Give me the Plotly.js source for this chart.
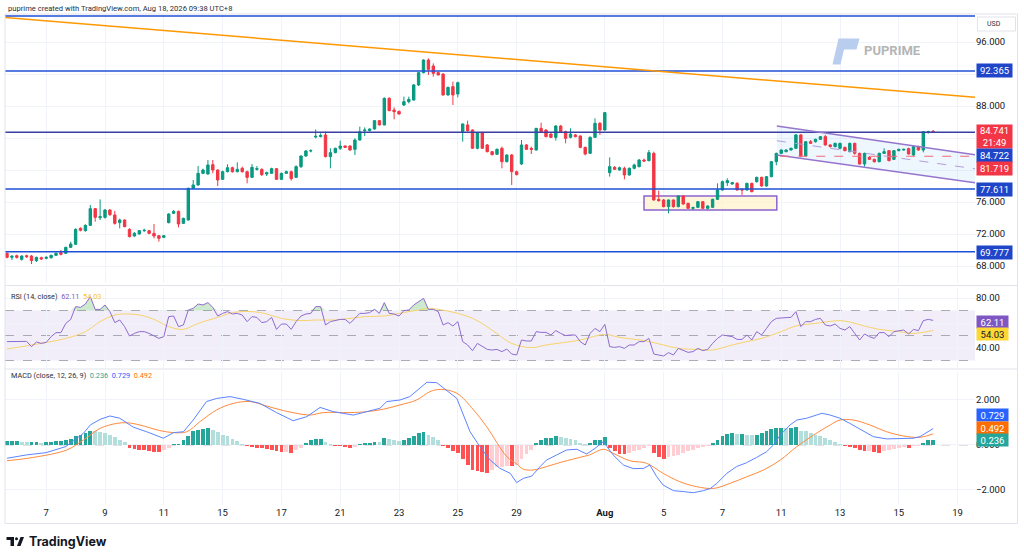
<!DOCTYPE html>
<html><head><meta charset="utf-8">
<script src="https://cdn.plot.ly/plotly-3.0.1.min.js"></script>
<style>html,body{margin:0;padding:0;background:#fff;}#chart{width:1024px;height:558px;}</style>
</head><body><div id="chart"></div>
<script>
// ---------- price candles (4H) ----------
const openP = [69.58,69.08,69.29,68.83,69.29,69.25,68.67,69.04,68.96,69.04,
69.33,69.67,69.58,70.33,70.71,72.71,72.42,73.08,75.17,74.04,
74.08,75.00,74.38,73.42,73.75,72.58,71.75,72.00,72.42,72.42,
72.08,71.79,71.58,73.42,74.58,74.83,73.33,73.75,77.71,78.13,
79.58,79.50,80.67,80.00,78.83,79.79,80.29,79.79,80.21,79.79,
79.08,80.08,80.08,79.50,79.58,80.17,78.83,79.58,79.79,79.08,
80.42,81.75,82.38,84.12,84.17,84.38,81.67,82.17,82.71,83.00,
83.00,82.58,83.75,84.92,84.92,85.13,86.17,85.63,88.96,87.50,
87.33,88.13,88.54,88.75,90.63,92.17,93.75,93.00,92.17,92.00,
89.38,90.42,89.50,84.79,85.63,85.00,82.71,84.67,83.13,82.29,
81.96,82.71,81.04,81.88,79.79,80.75,83.13,82.71,82.50,85.21,
85.00,84.50,84.08,85.50,84.79,84.08,84.38,84.25,82.83,82.08,
84.08,85.83,85.00,79.67,80.33,80.00,80.21,79.38,80.21,80.42,
81.25,81.17,82.08,76.33,76.25,75.42,76.25,75.42,76.75,75.83,
75.21,75.33,76.04,75.21,75.33,76.33,77.50,78.42,78.25,78.33,
77.58,77.50,78.33,78.54,79.08,78.00,79.17,81.04,82.08,82.29,
82.50,82.71,84.38,81.75,83.54,83.54,83.83,84.17,83.13,82.92,
82.71,82.83,82.29,83.33,82.08,80.75,81.58,81.33,81.04,82.08,
82.42,81.33,82.42,82.50,82.67,81.88,82.92,82.50,84.71,84.83];
const highP = [69.71,69.38,69.42,69.33,69.42,69.38,69.17,69.17,69.21,69.42,
69.71,70.00,70.42,71.04,72.71,72.83,73.21,75.63,75.25,76.33,
75.13,75.13,74.88,73.92,73.83,72.71,72.25,72.50,72.67,72.50,
73.25,71.88,71.88,74.58,75.00,74.92,74.04,77.79,78.75,80.50,
80.17,81.25,81.25,80.08,79.92,80.71,80.42,80.96,80.42,79.92,
80.75,80.50,80.21,79.79,80.29,80.25,79.67,79.92,79.92,80.58,
81.83,82.50,82.58,85.08,84.58,84.79,82.71,82.79,83.67,83.08,
83.08,83.96,85.42,85.33,85.17,86.25,86.25,89.08,89.08,87.83,
87.42,89.17,89.17,90.75,92.25,93.83,93.96,93.33,92.25,92.08,
90.42,91.04,91.04,85.83,86.17,85.08,84.71,84.79,83.25,82.38,
82.71,82.92,81.92,82.00,79.92,83.75,83.25,82.92,85.25,85.92,
85.08,84.58,85.63,85.63,84.92,85.21,84.50,84.33,82.92,84.21,
86.46,86.00,87.25,81.58,80.50,80.42,80.42,80.33,80.79,81.38,
81.42,82.50,82.29,77.42,76.38,76.33,76.33,76.83,76.83,75.92,
75.42,76.13,76.13,75.58,76.42,78.33,78.67,78.96,78.50,78.50,
77.67,78.42,78.42,79.17,79.17,79.25,81.13,82.17,82.58,82.58,
82.79,84.50,84.50,83.58,83.75,83.92,84.25,84.38,83.21,83.42,
83.42,82.92,83.42,83.42,82.17,82.17,81.75,81.42,82.17,82.71,
82.50,82.50,82.67,82.67,82.79,83.08,83.04,84.83,84.92,85.00];
const lowP = [68.96,68.75,68.92,68.67,69.00,68.25,68.50,68.75,68.83,68.92,
69.25,69.33,69.50,70.25,70.63,72.33,72.29,73.00,73.54,73.75,
73.92,74.25,73.17,72.71,72.83,71.58,71.67,71.92,72.25,71.96,
71.46,71.04,71.50,73.33,74.50,72.83,73.25,73.67,77.63,78.04,
79.50,79.42,79.58,78.00,78.75,79.71,79.67,79.71,79.67,78.33,
79.00,79.92,79.25,79.25,79.50,78.75,78.75,79.50,78.67,79.00,
80.25,81.67,82.21,83.96,84.08,81.58,80.21,82.08,82.50,82.75,
82.42,81.88,83.67,84.25,84.83,85.04,85.58,85.58,87.33,86.33,
86.92,88.00,88.33,88.67,90.50,92.08,91.88,91.67,91.83,89.29,
89.29,88.13,89.08,83.54,84.79,82.67,82.58,82.63,82.21,81.83,
81.88,80.21,80.96,78.13,79.33,80.63,82.50,82.00,82.42,84.67,
84.08,84.00,83.67,84.71,83.33,83.96,84.08,82.71,81.83,82.00,
84.00,84.38,84.92,79.17,80.00,79.92,78.83,79.29,80.08,80.33,
81.00,81.08,76.17,76.04,75.33,74.58,75.29,75.33,75.67,75.13,
75.00,75.25,75.13,75.08,75.25,76.25,77.42,78.00,78.17,77.42,
76.88,77.42,77.21,78.42,77.92,77.92,79.08,80.58,82.00,82.21,
82.42,82.63,81.58,81.67,83.33,83.42,83.75,83.04,82.83,82.83,
82.58,82.33,82.21,81.92,80.67,80.42,81.25,80.92,80.96,82.00,
81.08,81.25,82.33,82.42,81.92,81.75,82.42,82.21,84.54,84.63];
const closeP = [69.08,69.21,69.08,69.25,69.17,68.67,69.08,68.88,69.08,69.33,
69.58,69.46,70.33,70.75,72.58,72.46,73.08,75.17,74.08,74.17,
75.00,74.42,73.33,73.75,72.92,71.67,72.08,72.42,72.46,72.08,
71.75,71.46,71.79,74.50,74.83,73.25,73.96,77.71,78.13,79.58,
80.00,80.63,80.00,78.75,79.79,80.29,79.79,80.08,79.79,79.08,
80.33,80.17,79.42,79.67,80.17,78.83,79.58,79.79,78.92,80.42,
81.75,82.38,82.42,84.21,84.33,81.67,82.17,82.71,83.00,82.83,
82.50,83.75,84.79,85.00,85.13,86.17,85.63,88.96,87.42,87.29,
87.00,88.54,88.83,90.63,92.17,93.75,92.58,92.08,91.88,89.38,
90.33,89.38,90.92,85.75,84.92,82.71,84.67,82.71,82.29,81.92,
82.58,81.04,81.88,79.79,79.42,83.13,82.58,82.58,85.21,84.79,
84.17,84.08,85.50,84.79,83.96,84.50,84.17,82.83,82.00,84.08,
85.83,85.00,87.17,80.42,80.08,80.29,79.38,80.21,80.63,81.25,
81.13,82.17,76.25,76.17,75.42,76.25,75.42,76.75,75.75,75.21,
75.29,76.04,75.21,75.50,76.33,77.50,78.54,78.67,78.42,77.50,
77.50,78.33,77.29,79.08,78.00,79.17,81.04,82.08,82.50,82.50,
82.71,84.38,81.75,83.54,83.33,83.83,84.17,83.13,82.92,83.33,
83.33,82.42,83.33,82.08,80.75,82.08,81.33,81.04,82.08,82.29,
81.17,82.42,82.58,82.58,82.00,82.92,82.50,84.79,84.79,84.741];

// ---------- RSI (14) and its MA ----------
const rsi = [45.1,45.1,45.3,45.3,45.3,41.1,44.8,43.7,44.5,49.1,
52.3,52.3,59.7,62.9,73.1,72.5,75.2,81.1,70.9,70.9,
74.4,69.1,60.3,62.4,57.1,49.6,51.7,53.1,53.1,51.7,
49.6,47.7,49.1,65.1,65.6,57.1,58.4,70.4,71.7,75.2,
74.4,76.3,72.5,65.6,67.7,69.1,67.2,67.7,66.4,61.1,
65.1,64.5,60.3,61.1,64.5,54.9,59.2,59.2,54.9,61.1,
65.6,67.2,67.7,73.1,73.1,58.4,61.1,61.9,62.9,62.9,
59.7,63.7,67.7,67.7,68.3,70.9,67.7,76.3,67.7,67.2,
65.6,69.9,70.4,74.4,77.1,79.7,70.9,70.9,69.1,58.4,
60.3,57.6,61.1,45.1,42.4,37.9,43.7,41.1,38.9,38.4,
38.9,37.1,39.2,35.2,34.4,46.4,45.6,45.6,53.1,52.5,
52.5,50.4,53.9,51.7,49.9,50.4,50.4,45.1,42.4,51.7,
55.7,53.1,58.9,41.1,40.5,41.1,39.7,42.4,42.4,45.1,
45.1,47.7,35.2,34.4,33.6,36.3,34.4,39.7,37.9,36.5,
37.1,39.7,37.9,38.9,43.7,47.7,50.4,49.6,49.1,46.9,
46.9,50.4,46.4,53.1,50.4,55.7,61.1,63.7,64.3,64.3,
64.5,69.1,57.1,61.1,61.1,62.9,63.7,58.4,57.6,59.2,
55.7,54.4,57.1,52.0,46.4,51.2,49.1,47.7,52.3,52.3,
49.1,53.1,53.9,54.4,51.2,54.9,53.9,61.9,62.9,62.11];
const rsiMaX = [0,5,12,16,19,22,24,27,30,33,36,39,43,46,50,53,56,60,63,67,70,73,77,80,84,86,88,92,95,97,100,103,107,110,117,122,125,130,134,137,141,144,148,151,154,158,161,165,168,170,172,175,178,182,185,189];
const rsiMaV = [39.2,42.4,47.7,53.1,61.1,66.4,67.2,66.4,62.9,57.1,54.9,59.7,64.5,68.3,69.1,67.2,63.7,61.9,62.4,62.4,63.7,65.1,65.6,67.7,70.4,71.7,70.9,67.7,63.7,59.5,51.5,43.7,40.3,42.4,46.4,50.9,48.5,45.9,42.4,39.7,38.9,38.4,42.4,45.1,47.7,53.1,57.6,59.7,61.3,61.9,60.8,57.6,54.9,53.1,51.7,54.03];

// ---------- MACD (12, 26, 9) ----------
const macdX = [0,4,8,12,15.6,17,19,21,23,25.8,28.5,31.9,34,36,38,40.7,42.8,45.5,48.2,51.6,55,58.4,61.2,63.9,66.6,70.7,74.8,76.1,77.5,80.2,82.2,84.3,85.7,87.7,89.7,91.8,94.5,96.5,98.6,100.6,
102.7,104,105.4,107.1,108.8,110.1,112.2,114.2,116.3,118.3,120,121.7,123.7,125.8,127.8,129.9,131.2,132.6,133.9,136,138,140.1,142.1,143.5,144.9,146.9,148.9,150.9,153,155,156.4,157.8,159.8,161.2,163.2,165.2,166.3,168,170,172,174,176.8,179.5,182.2,184.9,186.3,187.7,189];
const macdV = [-0.59,-0.44,-0.34,-0.07,0.52,0.89,1.14,1.29,1.19,0.79,0.59,0.30,0.55,0.59,1.11,1.93,2.07,2.15,2.03,1.85,1.44,1.08,1.26,1.67,1.48,1.33,1.56,1.63,1.93,2.00,2.15,2.52,2.79,2.77,2.44,2.07,0.59,-0.07,-0.67,-1.04,
-1.26,-1.67,-1.48,-1.38,-0.96,-0.67,-0.44,-0.22,-0.19,-0.40,-0.15,0.15,-0.44,-0.89,-1.05,-1.04,-0.89,-1.41,-1.78,-2.03,-2.07,-2.12,-2.03,-1.94,-1.70,-1.26,-0.96,-0.79,-0.55,-0.30,0.00,0.44,0.89,1.11,1.19,1.33,1.41,1.33,1.19,0.96,0.70,0.37,0.27,0.30,0.30,0.37,0.55,0.729];
const signalX = [0,5.4,12.2,15.6,19,22.4,24.4,27.1,31.2,34,36.7,39.4,42.8,46.2,49.6,53,56.4,59.8,61.8,64.6,70,73.4,76.8,80.2,83.6,86.3,88.4,91.8,95.2,97.9,
102,104,105.4,107.4,110.1,113.5,116.9,118.9,121.7,123.7,127.1,130.5,133.9,137.3,140.7,144.2,147.6,151,154.4,157.8,161.2,164.6,168,170,172.7,176.1,179.5,182.9,186.3,189];
const signalV = [-0.70,-0.55,-0.22,0.22,0.74,0.96,0.99,0.89,0.64,0.55,0.59,1.04,1.56,1.85,1.93,1.73,1.53,1.38,1.33,1.44,1.44,1.48,1.59,1.78,2.00,2.37,2.47,2.30,1.56,0.81,
-0.52,-0.84,-1.08,-1.11,-0.96,-0.74,-0.55,-0.44,-0.19,-0.37,-0.70,-0.81,-1.26,-1.63,-1.85,-1.93,-1.70,-1.41,-1.11,-0.67,-0.07,0.44,0.89,1.11,1.11,0.89,0.59,0.40,0.34,0.492];
const hist = [0.18,0.18,0.18,0.15,0.12,0.12,0.12,0.09,0.12,0.15,
0.16,0.19,0.24,0.28,0.41,0.46,0.53,0.64,0.61,0.58,
0.53,0.46,0.34,0.24,0.12,-0.13,-0.18,-0.21,-0.24,-0.27,
-0.30,-0.33,-0.21,-0.12,0.03,0.06,0.24,0.39,0.61,0.65,
0.73,0.76,0.68,0.56,0.46,0.39,0.28,0.16,0.06,-0.06,
-0.09,-0.12,-0.15,-0.18,-0.21,-0.28,-0.31,-0.30,-0.36,-0.24,
-0.12,0.09,0.21,0.27,0.27,0.12,0.03,-0.03,-0.06,-0.09,
-0.13,-0.09,0.04,0.09,0.09,0.15,0.12,0.33,0.28,0.24,
0.19,0.21,0.31,0.41,0.53,0.56,0.46,0.36,0.24,-0.06,
-0.15,-0.28,-0.35,-0.62,-0.87,-1.10,-1.17,-1.21,-1.24,-1.10,
-1.00,-1.00,-0.93,-0.95,-0.87,-0.62,-0.39,-0.21,0.09,0.24,
0.31,0.31,0.41,0.34,0.31,0.27,0.21,0.09,0.03,0.09,
0.21,0.24,0.36,-0.13,-0.28,-0.39,-0.40,-0.36,-0.28,-0.21,
-0.13,-0.06,-0.36,-0.53,-0.62,-0.53,-0.47,-0.43,-0.36,-0.28,
-0.21,-0.13,-0.09,-0.03,0.09,0.24,0.39,0.49,0.53,0.49,
0.49,0.46,0.43,0.46,0.53,0.64,0.71,0.76,0.77,0.74,
0.76,0.78,0.64,0.61,0.53,0.46,0.39,0.31,0.21,0.12,
0.06,-0.06,-0.09,-0.15,-0.21,-0.28,-0.28,-0.33,-0.36,-0.28,
-0.21,-0.18,-0.15,-0.10,-0.13,-0.06,-0.03,0.09,0.21,0.236];

// ---------- axis ticks ----------
const tickIdx = [8,20,32,44,56,68,80,92,104,122,134,146,158,170,182,194];
const tickLabels = ['7','9','11','15','17','21','23','25','29','<b>Aug</b>','5','7','11','13','15','19'];
const priceTicks = [68,72,76,80,84,88,92,96];
const priceTickText = ['68.000','72.000','76.000','','','88.000','','96.000'];
const rsiTicks = [40,60,80];
const rsiTickText = ['40.00','','80.00'];
const macdTicks = [-2,0,2];
const macdTickText = ['\u22122.000','0.000','2.000'];

// ---------- drawings ----------
const levels = [99.25, 92.365, 84.722, 77.611, 69.777];
const levelColors = ['#1f4fd6','#1f4fd6','#3a3fa6','#1f4fd6','#1f4fd6'];
const lastPrice = 84.741, countdown = '21:49', stopLevel = 81.719;
const trendX = [-0.41, 197.55], trendY = [99.07, 89.09];
const chUpperX = [157.1, 197.55], chUpperY = [85.5, 81.91];
const chLowerX = [157.1, 197.55], chLowerY = [81.875, 78.41];
const chMidX = [157.1, 197.55], chMidY = [83.66, 80.15];
const zoneX = [130.0, 157.1], zoneY = [75.0, 76.75];
const stopStartX = 157.8;

const N = closeP.length;
const idx = closeP.map((_, i) => i);

// pixel helpers for layout furniture
const PL = 5, PR = 975, PT = 14, PB = 505;
const px = x => (x - PL) / (PR - PL);
const py = y => (PB - y) / (PB - PT);
const XR = [-0.41, 197.55];

const FONT = 'Roboto, "Liberation Sans", Arial, sans-serif';

const histColors = hist.map((v, i) => {
  const p = i > 0 ? hist[i-1] : v;
  if (v >= 0) return v >= p ? '#26a69a' : '#b2dfdb';
  return v < p ? '#ff5252' : '#ffcdd2';
});

const traces = [
  {type:'candlestick', x: idx, open: openP, high: highP, low: lowP, close: closeP,
   increasing:{line:{color:'#089981', width:1}, fillcolor:'#089981'},
   decreasing:{line:{color:'#f23645', width:1}, fillcolor:'#f23645'},
   whiskerwidth:0, hoverinfo:'skip', xaxis:'x', yaxis:'y', showlegend:false},
  {type:'scatter', mode:'lines', x: idx, y: idx.map(() => 70), line:{width:0}, xaxis:'x', yaxis:'y2', hoverinfo:'skip', showlegend:false},
  {type:'scatter', mode:'lines', x: idx, y: rsi.map(v => Math.max(v, 70)), line:{width:0}, fill:'tonexty', fillcolor:'rgba(76,175,80,0.28)', xaxis:'x', yaxis:'y2', hoverinfo:'skip', showlegend:false},
  {type:'scatter', mode:'lines', x: rsiMaX, y: rsiMaV, line:{color:'#f7d36b', width:1, shape:'spline'}, xaxis:'x', yaxis:'y2', hoverinfo:'skip', showlegend:false},
  {type:'scatter', mode:'lines', x: idx, y: rsi, line:{color:'#8e6bd0', width:1}, xaxis:'x', yaxis:'y2', hoverinfo:'skip', showlegend:false},
  {type:'bar', x: idx, y: hist, marker:{color: histColors, line:{width:0}}, width:0.78, xaxis:'x', yaxis:'y3', hoverinfo:'skip', showlegend:false},
  {type:'scatter', mode:'lines', x: signalX, y: signalV, line:{color:'#ff8a3d', width:1, shape:'spline'}, xaxis:'x', yaxis:'y3', hoverinfo:'skip', showlegend:false},
  {type:'scatter', mode:'lines', x: macdX, y: macdV, line:{color:'#5b84ff', width:1}, xaxis:'x', yaxis:'y3', hoverinfo:'skip', showlegend:false}
];

const shapes = [];
shapes.push({type:'rect', xref:'paper', yref:'y2', x0:0, x1:1, y0:30, y1:70, fillcolor:'rgba(126,87,194,0.10)', line:{width:0}, layer:'between'});
[70,50,30].forEach(v => shapes.push({type:'line', xref:'paper', yref:'y2', x0:0, x1:1, y0:v, y1:v, line:{color:'rgba(120,123,134,0.6)', width:1, dash:'dash'}, layer:'between'}));
shapes.push({type:'line', xref:'paper', yref:'y3', x0:0, x1:1, y0:0, y1:0, line:{color:'rgba(120,123,134,0.45)', width:1, dash:'dash'}, layer:'between'});
shapes.push({type:'rect', xref:'x', yref:'y', x0:zoneX[0], x1:zoneX[1], y0:zoneY[0], y1:zoneY[1], fillcolor:'rgba(255,243,205,0.75)', line:{color:'#8e63d2', width:1.5}, layer:'between'});
shapes.push({type:'path', xref:'x', yref:'y', path:`M ${chUpperX[0]} ${chUpperY[0]} L ${chUpperX[1]} ${chUpperY[1]} L ${chLowerX[1]} ${chLowerY[1]} L ${chLowerX[0]} ${chLowerY[0]} Z`, fillcolor:'rgba(33,150,243,0.08)', line:{width:0}, layer:'between'});
levels.forEach((v, i) => shapes.push({type:'line', xref:'paper', yref:'y', x0:0, x1:1, y0:v, y1:v, line:{color:levelColors[i], width:1.5}, layer:'above'}));
shapes.push({type:'line', xref:'x', yref:'y', x0:trendX[0], x1:trendX[1], y0:trendY[0], y1:trendY[1], line:{color:'#ff9800', width:1.5}, layer:'above'});
shapes.push({type:'line', xref:'x', yref:'y', x0:chUpperX[0], x1:chUpperX[1], y0:chUpperY[0], y1:chUpperY[1], line:{color:'#9575cd', width:1.5}, layer:'above'});
shapes.push({type:'line', xref:'x', yref:'y', x0:chLowerX[0], x1:chLowerX[1], y0:chLowerY[0], y1:chLowerY[1], line:{color:'#9575cd', width:1.5}, layer:'above'});
shapes.push({type:'line', xref:'x', yref:'y', x0:chMidX[0], x1:chMidX[1], y0:chMidY[0], y1:chMidY[1], line:{color:'#b39ddb', width:1, dash:'dash'}, layer:'above'});
shapes.push({type:'line', xref:'x', yref:'y', x0:stopStartX, x1:XR[1], y0:stopLevel, y1:stopLevel, line:{color:'#f26b78', width:1.2, dash:'dash'}, layer:'above'});
shapes.push({type:'rect', xref:'paper', yref:'paper', x0:px(5), x1:px(1017.5), y0:py(523.5), y1:py(14), line:{color:'#e0e3eb', width:1}, fillcolor:'rgba(0,0,0,0)'});
shapes.push({type:'line', xref:'paper', yref:'paper', x0:px(5), x1:px(1017.5), y0:py(285.5), y1:py(285.5), line:{color:'#e0e3eb', width:1}});
shapes.push({type:'line', xref:'paper', yref:'paper', x0:px(5), x1:px(1017.5), y0:py(369), y1:py(369), line:{color:'#e0e3eb', width:1}});
shapes.push({type:'rect', xref:'paper', yref:'paper', x0:px(977.5), x1:px(1015.5), y0:py(31), y1:py(17), line:{color:'#e0e3eb', width:1}, fillcolor:'#ffffff'});
shapes.push({type:'path', xref:'paper', yref:'paper', path:`M ${px(832.5)} ${py(64.5)} L ${px(840.5)} ${py(64.5)} L ${px(846.5)} ${py(38.5)} L ${px(838.5)} ${py(38.5)} Z`, fillcolor:'#b9cdef', line:{width:0}});
shapes.push({type:'path', xref:'paper', yref:'paper', path:`M ${px(846)} ${py(38.5)} L ${px(859.5)} ${py(38.5)} L ${px(856.5)} ${py(49.5)} L ${px(843.5)} ${py(49.5)} Z`, fillcolor:'#b9cdef', line:{width:0}});
shapes.push({type:'rect', xref:'paper', yref:'paper', x0:px(6.5), x1:px(14), y0:py(540), y1:py(537), fillcolor:'#131722', line:{width:0}});
shapes.push({type:'rect', xref:'paper', yref:'paper', x0:px(10.5), x1:px(14), y0:py(546), y1:py(537), fillcolor:'#131722', line:{width:0}});
shapes.push({type:'circle', xref:'paper', yref:'paper', x0:px(15), x1:px(18), y0:py(540.2), y1:py(537.2), fillcolor:'#131722', line:{width:0}});
shapes.push({type:'path', xref:'paper', yref:'paper', path:`M ${px(17)} ${py(546)} L ${px(20.5)} ${py(546)} L ${px(24)} ${py(537)} L ${px(20.5)} ${py(537)} Z`, fillcolor:'#131722', line:{width:0}});

const ann = [];
ann.push({xref:'paper', yref:'paper', x:px(6), y:py(8), xanchor:'left', yanchor:'middle', showarrow:false,
  text:'puprime created with TradingView.com, Aug 18, 2026 09:38 UTC+8', font:{family:FONT, size:7.6, color:'#2a2e39'}});
ann.push({xref:'paper', yref:'paper', x:px(9), y:py(296), xanchor:'left', yanchor:'middle', showarrow:false,
  text:`<span style="color:#2a2e39">RSI (14, close)</span>  <span style="color:#7e57c2">${rsi[N-1].toFixed(2)}</span>  <span style="color:#f5c518">${rsiMaV[rsiMaV.length-1].toFixed(2)}</span>`, font:{family:FONT, size:7.3}});
ann.push({xref:'paper', yref:'paper', x:px(9), y:py(375.5), xanchor:'left', yanchor:'middle', showarrow:false,
  text:`<span style="color:#2a2e39">MACD (close, 12, 26, 9)</span>  <span style="color:#26a69a">${hist[N-1].toFixed(3)}</span>  <span style="color:#2962ff">${macdV[macdV.length-1].toFixed(3)}</span>  <span style="color:#ff6d00">${signalV[signalV.length-1].toFixed(3)}</span>`, font:{family:FONT, size:7.3}});
const tag = (text, ypix, bg, fg, w, h) => ann.push({xref:'paper', yref:'paper', x:px(976), y:py(ypix), xanchor:'left', yanchor:'middle', showarrow:false,
  text, bgcolor:bg, width:w, height:h, borderpad:0, align:'center', font:{family:FONT, size:9.5, color:fg}});
tag(levels[1].toFixed(3), 71, '#1f45c9', '#ffffff', 35, 13);
tag(lastPrice.toFixed(3) + '<br>' + countdown, 136.5, '#f23645', '#ffffff', 35, 23);
tag(levels[2].toFixed(3), 155, '#1f45c9', '#ffffff', 35, 13);
tag(stopLevel.toFixed(3), 168, '#f23645', '#ffffff', 35, 13);
tag(levels[3].toFixed(3), 189, '#1f45c9', '#ffffff', 35, 13);
tag(levels[4].toFixed(3), 252, '#1f45c9', '#ffffff', 35, 13);
tag(rsi[N-1].toFixed(2), 321.5, '#7e57c2', '#ffffff', 31, 12);
tag(rsiMaV[rsiMaV.length-1].toFixed(2), 333.5, '#fdd835', '#131722', 31, 12);
tag(macdV[macdV.length-1].toFixed(3), 415, '#2962ff', '#ffffff', 31, 12);
tag(signalV[signalV.length-1].toFixed(3), 427.5, '#ff6d00', '#ffffff', 31, 12);
tag(hist[N-1].toFixed(3), 440, '#26a69a', '#ffffff', 31, 12);
ann.push({xref:'paper', yref:'paper', x:px(985), y:py(24), xanchor:'left', yanchor:'middle', showarrow:false, text:'USD', font:{family:FONT, size:7, color:'#2a2e39'}});
ann.push({xref:'paper', yref:'paper', x:px(862), y:py(51), xanchor:'left', yanchor:'middle', showarrow:false, text:'<b>PUPRIME</b>', font:{family:FONT, size:13, color:'#b5b5b5'}});
ann.push({xref:'paper', yref:'paper', x:px(27), y:py(541.5), xanchor:'left', yanchor:'middle', showarrow:false, text:'<b>TradingView</b>', font:{family:'Inter, '+FONT, size:12.5, color:'#131722'}});

const axisCommon = {showgrid:true, gridcolor:'#f0f3fa', gridwidth:1, zeroline:false, showline:false, ticks:'', fixedrange:true,
  tickfont:{family:FONT, size:9.5, color:'#131722'}};

const layout = {
  width:1024, height:558, paper_bgcolor:'#ffffff', plot_bgcolor:'#ffffff',
  margin:{l:PL, r:1024-PR, t:PT, b:558-PB}, showlegend:false, bargap:0, hovermode:false,
  xaxis: Object.assign({}, axisCommon, {domain:[0,1], range:XR, anchor:'y3', tickmode:'array', tickvals:tickIdx, ticktext:tickLabels, rangeslider:{visible:false}}),
  yaxis: Object.assign({}, axisCommon, {domain:[py(283),1], range:[65.875,99.5], side:'right', anchor:'x', tickmode:'array', tickvals:priceTicks, ticktext:priceTickText}),
  yaxis2: Object.assign({}, axisCommon, {domain:[py(368),py(288)], range:[24,88], side:'right', anchor:'x', tickmode:'array', tickvals:rsiTicks, ticktext:rsiTickText}),
  yaxis3: Object.assign({}, axisCommon, {domain:[0,py(372)], range:[-2.667,3.244], side:'right', anchor:'x', tickmode:'array', tickvals:macdTicks, ticktext:macdTickText}),
  shapes, annotations: ann
};

Plotly.newPlot('chart', traces, layout, {staticPlot:true, displayModeBar:false});
</script>
</body></html>
